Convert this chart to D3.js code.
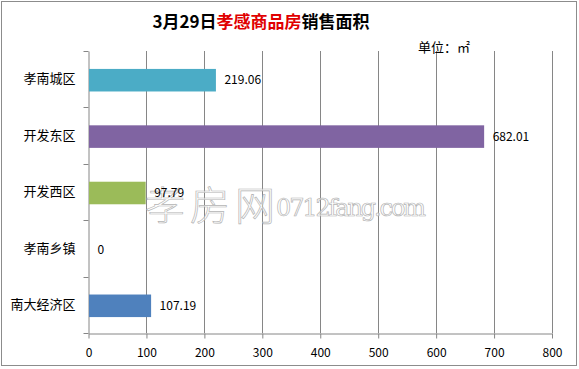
<!DOCTYPE html>
<html><head><meta charset="utf-8">
<script src="https://cdn.jsdelivr.net/npm/d3@7/dist/d3.min.js"></script>
<style>body{margin:0;background:#fff}svg{display:block}</style>
</head><body>
<svg id="c" width="579" height="369"></svg>
<script>
const categories = ["孝南城区","开发东区","开发西区","孝南乡镇","南大经济区"];
const values = [219.06, 682.01, 97.79, 0, 107.19];
const colors = ["#4BACC6","#8064A2","#9BBB59","#4F81BD","#4F81BD"];
const xTicks = [0,100,200,300,400,500,600,700,800];

const svg = d3.select("#c");
const font = "'Noto Sans CJK SC', 'Liberation Sans', sans-serif";
svg.append("rect").attr("x",1.5).attr("y",1.5).attr("width",575).attr("height",364)
  .attr("fill","#fff").attr("stroke","#8c8c8c").attr("stroke-width",1);

const m = {l:88.5, r:552, t:51, b:333};
const x = d3.scaleLinear().domain([0,800]).range([m.l, m.r]);
const y = d3.scaleBand().domain(categories).range([m.t, m.b]).paddingInner(0.6).paddingOuter(0.3);
const yb = d3.scaleBand().domain(categories).range([m.t, m.b]);

// gridlines
svg.append("g").selectAll("line").data(xTicks.slice(1)).join("line")
  .attr("x1",d=>Math.round(x(d))+0.5).attr("x2",d=>Math.round(x(d))+0.5)
  .attr("y1",m.t).attr("y2",m.b).attr("stroke","#868686");

// x axis
const xa = svg.append("g").attr("transform",`translate(0,${m.b+0.5})`)
  .call(d3.axisBottom(x).tickValues(xTicks).tickSize(5).tickSizeOuter(0).tickFormat(d3.format("d")));
xa.select(".domain").attr("stroke","#868686");
xa.selectAll(".tick line").attr("stroke","#868686");
xa.selectAll("text").attr("font-family",font).attr("font-size",12).attr("fill","#000").attr("dy","1.25em");

// y axis
const ya = svg.append("g").attr("transform",`translate(${m.l},0)`)
  .call(d3.axisLeft(yb).tickSize(0).tickPadding(13));
ya.select(".domain").attr("stroke","#868686");
ya.selectAll("text").attr("font-family",font).attr("font-size",13).attr("fill","#000");
// category separator ticks
svg.append("g").selectAll("line").data(d3.range(categories.length+1)).join("line")
  .attr("x1",m.l-5).attr("x2",m.l)
  .attr("y1",i=>Math.round(m.t + i*yb.step())+0.5).attr("y2",i=>Math.round(m.t + i*yb.step())+0.5)
  .attr("stroke","#868686");

// bars
svg.append("g").selectAll("rect").data(categories).join("rect")
  .attr("x",x(0)+0.5).attr("y",d=>y(d)+1).attr("height",y.bandwidth())
  .attr("width",(d,i)=>Math.max(0,x(values[i])-x(0)))
  .attr("fill",(d,i)=>colors[i]);

// watermark
const wm = svg.append("g").attr("fill","#fff").attr("fill-opacity",0.6).attr("stroke","#b4b4b4").attr("stroke-width",0.7);
wm.append("text").attr("x",145).attr("y",220).attr("font-family",font).attr("font-size",40).attr("font-weight",300)
  .attr("textLength",130).text("孝房网");
wm.append("text").attr("x",276).attr("y",216).attr("font-family","'DejaVu Serif', serif").attr("font-size",24)
  .attr("textLength",150).text("0712fang.com");

// value labels
svg.append("g").selectAll("text").data(categories).join("text")
  .attr("x",(d,i)=>x(values[i])+9).attr("y",d=>y(d)+y.bandwidth()/2+1).attr("dy","0.35em")
  .attr("font-family",font).attr("font-size",12).attr("fill","#000")
  .text((d,i)=>values[i]===0?"0":values[i].toFixed(2));

// title
const t = svg.append("text").attr("x",261).attr("y",28).attr("text-anchor","middle")
  .attr("font-family",font).attr("font-size",17).attr("font-weight","bold");
t.append("tspan").attr("fill","#000").text("3月29日");
t.append("tspan").attr("fill","#e00000").text("孝感商品房");
t.append("tspan").attr("fill","#000").text("销售面积");

svg.append("text").attr("x",418).attr("y",52).attr("font-family",font).attr("font-size",13).attr("fill","#000").text("单位：㎡");
</script>
</body></html>
